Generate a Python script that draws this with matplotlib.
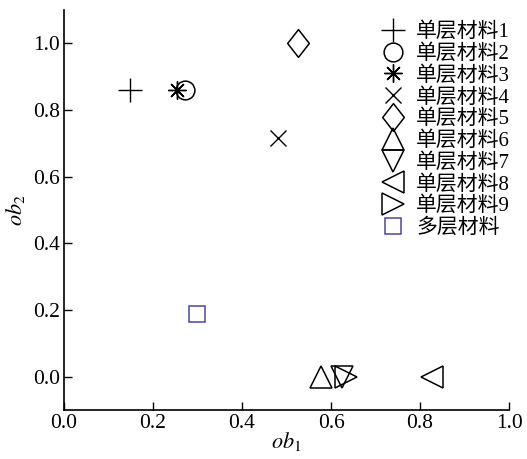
import matplotlib
matplotlib.use("Agg")
import matplotlib.pyplot as plt
from matplotlib.path import Path

plt.rcParams['font.family'] = ['Liberation Serif', 'Noto Sans CJK SC']
plt.rcParams['mathtext.fontset'] = 'stix'

labels = ['单层材料1', '单层材料2', '单层材料3', '单层材料4', '单层材料5',
          '单层材料6', '单层材料7', '单层材料8', '单层材料9', '多层材料']
ob1 = [0.148, 0.272, 0.254, 0.481, 0.526, 0.578, 0.625, 0.827, 0.634, 0.299]
ob2 = [0.859, 0.859, 0.859, 0.716, 1.0, 0.0, 0.0, 0.0, 0.0, 0.189]

diamond = Path([(0, 1), (0.78, 0), (0, -1), (-0.78, 0), (0, 1)],
               [Path.MOVETO, Path.LINETO, Path.LINETO, Path.LINETO, Path.CLOSEPOLY])
markers = ['+', 'o', (8, 2, 0), 'x', diamond, '^', 'v', '<', '>', 's']
sizes = [17, 13.5, 13, 12, 20, 16.5, 16.5, 16.5, 16.5, 12]
colors = ['black'] * 9 + ['#4646a8']
filled_line = [True, False, True, True, False, False, False, False, False, False]

fig = plt.figure(figsize=(5.27, 4.59), dpi=100)
ax = fig.add_axes([0.1214, 0.1068, 0.8446, 0.8714])

for x, y, m, s, c, lab, fl in zip(ob1, ob2, markers, sizes, colors, labels, filled_line):
    if fl:
        ax.plot([x], [y], linestyle='none', marker=m, markersize=s,
                color=c, markeredgewidth=1.0, label=lab)
    else:
        ax.plot([x], [y], linestyle='none', marker=m, markersize=s,
                markerfacecolor='none', markeredgecolor=c, markeredgewidth=1.1,
                label=lab)

ax.set_xlim(0, 1.0)
ax.set_ylim(-0.1, 1.1)
ax.set_xticks([0.0, 0.2, 0.4, 0.6, 0.8, 1.0])
ax.set_yticks([0.0, 0.2, 0.4, 0.6, 0.8, 1.0])
ax.set_xticklabels(['0.0', '0.2', '0.4', '0.6', '0.8', '1.0'])
ax.set_yticklabels(['0.0', '0.2', '0.4', '0.6', '0.8', '1.0'])
ax.tick_params(direction='in', length=6, width=1, labelsize=15.5, pad=3)
ax.spines['top'].set_visible(False)
ax.spines['right'].set_visible(False)
for sp in ('left', 'bottom'):
    ax.spines[sp].set_linewidth(1.2)

ax.set_xlabel('$ob_1$', fontsize=16, labelpad=-2)
ax.set_ylabel('$ob_2$', fontsize=16, labelpad=4)

leg = ax.legend(loc='upper right', bbox_to_anchor=(1.035, 1.005), frameon=False,
                fontsize=15, handlelength=1.3, handletextpad=0.45,
                labelspacing=0.1, borderpad=0.2)

fig.savefig('out.png', dpi=100)
